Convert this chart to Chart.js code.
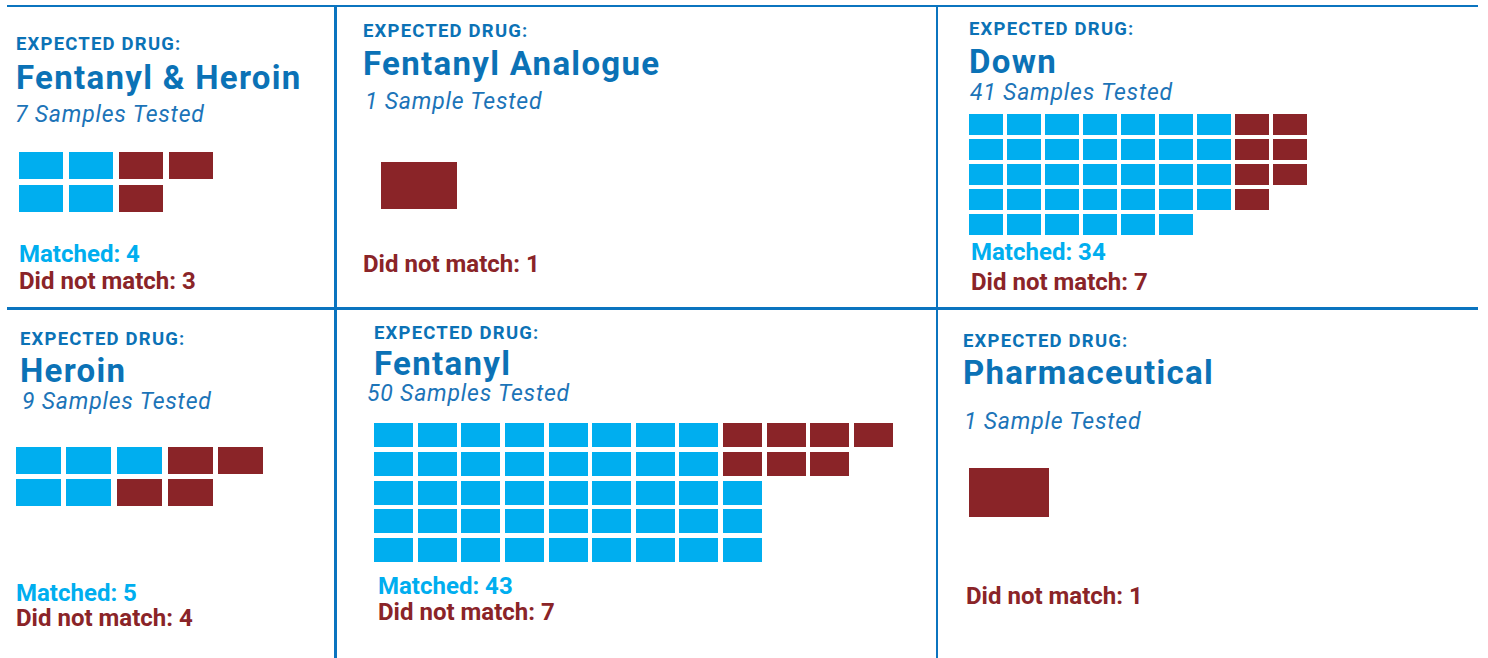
<!DOCTYPE html>
<html>
<head>
<meta charset="utf-8">
<script src="https://cdn.jsdelivr.net/npm/chart.js@4.4.0/dist/chart.umd.min.js"></script>
<style>
  html, body { margin: 0; padding: 0; background: #fff; }
  #board { position: relative; width: 1488px; height: 658px; overflow: hidden; font-family: Roboto, "Noto Sans", sans-serif; }
  .rule { position: absolute; background: #0b74bf; }
  .txt { position: absolute; white-space: nowrap; line-height: 0.75; }
  .lbl { font-weight: 700; font-size: 18.5px; letter-spacing: 1.2px; color: #0b72b6; }
  .ttl { font-weight: 700; font-size: 33px; letter-spacing: 1.3px; color: #0b72b6; }
  .sub { font-style: italic; font-weight: 400; font-size: 23px; letter-spacing: 0.8px; color: #1c74b8; }
  .hit { font-weight: 700; font-size: 24px; color: #00aeef; }
  .miss { font-weight: 700; font-size: 24px; color: #8a2428; }
  canvas { position: absolute; }
</style>
</head>
<body>
<div id="board"></div>
<script>
// chart data
const drugs = ['Fentanyl & Heroin', 'Fentanyl Analogue', 'Down', 'Heroin', 'Fentanyl', 'Pharmaceutical'];
const samplesTested = [7, 1, 41, 9, 50, 1];
const matched = [4, 0, 34, 5, 43, 0];
const didNotMatch = [3, 1, 7, 4, 7, 1];
// squares of each kind in every row of the waffle, left to right
const matchedByRow = [[2, 2], [0], [7, 7, 7, 7, 6], [3, 2], [8, 8, 9, 9, 9], [0]];
const unmatchedByRow = [[2, 1], [1], [2, 2, 2, 1, 0], [2, 2], [4, 3, 0, 0, 0], [1]];

const BLUE = '#00aeef';
const RED = '#8a2428';

// where things go in each panel: text x / baseline, grid origin, pitch and cell size
const layout = [
  { tx: [16, 16, 15, 19, 19], ty: [51, 89.3, 122.7, 262, 289], gx: 19, gy: 152, px: 50, py: 33, w: 44, h: 27 },
  { tx: [363, 363, 365, 0, 363], ty: [38.3, 75.3, 109, 0, 272], gx: 381, gy: 162, px: 82, py: 53, w: 76, h: 47 },
  { tx: [969, 969, 970, 971, 971], ty: [36, 73.3, 100, 260.7, 290], gx: 969, gy: 114, px: 38, py: 25, w: 34, h: 21 },
  { tx: [20, 20, 22, 16, 16], ty: [346.7, 382.3, 409.2, 601, 626.7], gx: 16, gy: 446, px: 50.5, py: 32, w: 45, h: 27 },
  { tx: [374, 374, 367, 378, 378], ty: [340, 375.7, 401.7, 594.3, 620.7], gx: 374, gy: 423, px: 43.6, py: 28.5, w: 39, h: 24 },
  { tx: [963, 963, 964, 0, 966], ty: [348.3, 384.3, 429, 0, 604.3], gx: 969, gy: 468, px: 86, py: 55, w: 80, h: 49 }
];

const sizes = { lbl: 18.5, ttl: 33, sub: 23, hit: 24, miss: 24 };
const board = document.getElementById('board');

function rule(x, y, w, h) {
  const d = document.createElement('div');
  d.className = 'rule';
  Object.assign(d.style, { left: x + 'px', top: y + 'px', width: w + 'px', height: h + 'px' });
  board.appendChild(d);
}
rule(7, 5, 1471, 2.4);
rule(7, 307.3, 1471, 2.6);
rule(334, 5, 2.6, 653);
rule(936, 5, 2.4, 653);

// baseline sits 0.717em below the top of a 0.75 line box (Roboto metrics)
function text(str, cls, x, baseline) {
  const d = document.createElement('div');
  d.className = 'txt ' + cls;
  d.textContent = str;
  d.style.left = x + 'px';
  d.style.top = (baseline - 0.717 * sizes[cls]) + 'px';
  board.appendChild(d);
}

function cellImage(w, h, color) {
  const c = document.createElement('canvas');
  c.width = w;
  c.height = h;
  const g = c.getContext('2d');
  g.fillStyle = color;
  g.fillRect(0, 0, w, h);
  return c;
}

drugs.forEach((drug, i) => {
  const L = layout[i];
  text('EXPECTED DRUG:', 'lbl', L.tx[0], L.ty[0]);
  text(drug, 'ttl', L.tx[1], L.ty[1]);
  text(samplesTested[i] + (samplesTested[i] === 1 ? ' Sample Tested' : ' Samples Tested'), 'sub', L.tx[2], L.ty[2]);
  if (matched[i] > 0) text('Matched: ' + matched[i], 'hit', L.tx[3], L.ty[3]);
  text('Did not match: ' + didNotMatch[i], 'miss', L.tx[4], L.ty[4]);

  const hitPts = [], missPts = [];
  let cols = 0;
  matchedByRow[i].forEach((m, r) => {
    const u = unmatchedByRow[i][r];
    for (let c = 0; c < m; c++) hitPts.push({ x: c, y: r });
    for (let c = m; c < m + u; c++) missPts.push({ x: c, y: r });
    cols = Math.max(cols, m + u);
  });
  const rows = matchedByRow[i].length;

  const cv = document.createElement('canvas');
  cv.width = Math.round(cols * L.px);
  cv.height = Math.round(rows * L.py);
  cv.style.left = (L.gx - (L.px - L.w) / 2) + 'px';
  cv.style.top = (L.gy - (L.py - L.h) / 2) + 'px';
  board.appendChild(cv);

  new Chart(cv, {
    type: 'scatter',
    data: {
      datasets: [
        { label: 'Matched', data: hitPts, pointStyle: cellImage(L.w, L.h, BLUE), pointRadius: 5, clip: false },
        { label: 'Did not match', data: missPts, pointStyle: cellImage(L.w, L.h, RED), pointRadius: 5, clip: false }
      ]
    },
    options: {
      responsive: false,
      animation: false,
      events: [],
      layout: { padding: 0, autoPadding: false },
      plugins: { legend: { display: false }, tooltip: { enabled: false } },
      scales: {
        x: { type: 'linear', min: -0.5, max: cols - 0.5, display: false },
        y: { type: 'linear', min: -0.5, max: rows - 0.5, reverse: true, display: false }
      }
    }
  });
});
</script>
</body>
</html>
